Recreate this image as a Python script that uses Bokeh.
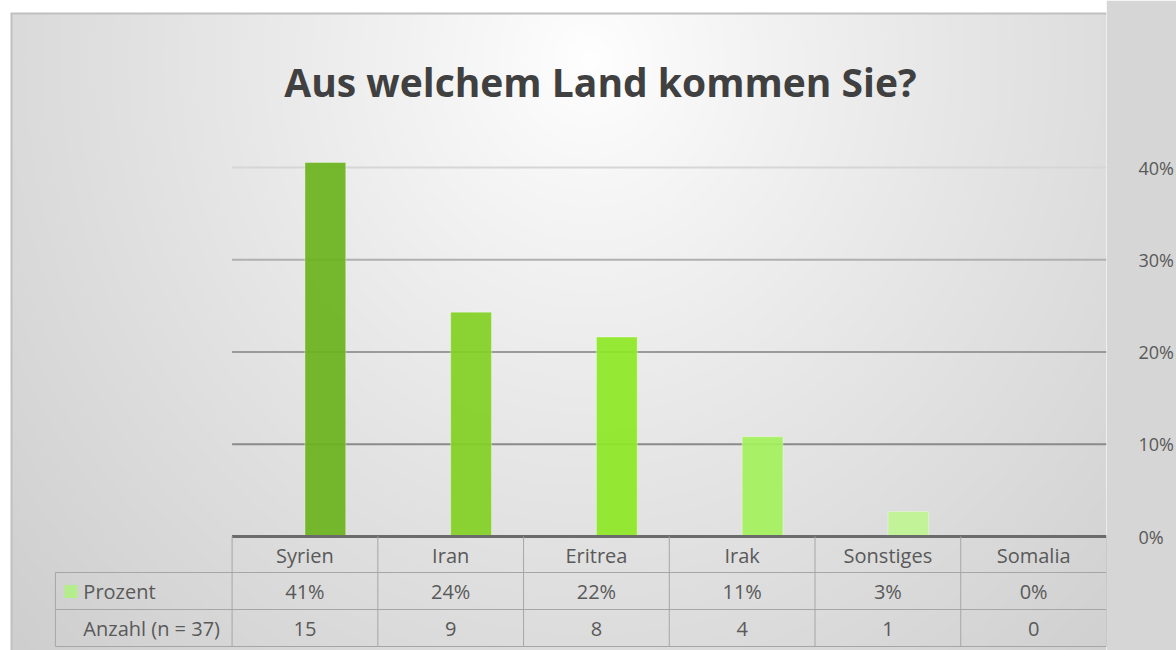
import numpy as np
from bokeh.plotting import figure
from bokeh.models import Range1d, FixedTicker, NumeralTickFormatter, ColumnDataSource
from bokeh.core.properties import value
from bokeh.embed import file_html
from bokeh.resources import INLINE

# ---------------- data ----------------
categories = ["Syrien", "Iran", "Eritrea", "Irak", "Sonstiges", "Somalia"]
prozent = [40.54, 24.32, 21.62, 10.81, 2.70, 0.0]      # percent of respondents
anzahl = [15, 9, 8, 4, 1, 0]                           # counts (n = 37)
bar_colors = ["#6bb31c", "#81d022", "#8de824", "#a3f15b", "#bff492", "#bff492"]
y_ticks = [0.0, 0.1, 0.2, 0.3, 0.4]
title_text = "Aus welchem Land kommen Sie?"
row_labels = ["Prozent", "Anzahl (n = 37)"]

# ---------------- geometry helpers (page pixels -> data) ----------------
W, H = 1176, 650
BORDER_R = 68
frame_left_px, frame_right_px = 0, W - BORDER_R
frame_top_px, frame_bottom_px = 0, H
table_left_cell = 232.0
cell_w = (frame_right_px - table_left_cell) / len(categories)
cell0_center = table_left_cell + cell_w / 2
zero_px = 536.0
px_per_unit = 922.5  # pixels per 1.0 (=100%)

def dx(px):
    return (px - cell0_center) / cell_w

def dy(py):
    return (zero_px - py) / px_per_unit

x0, x1 = dx(frame_left_px), dx(frame_right_px)
y0, y1 = dy(frame_bottom_px), dy(frame_top_px)

p = figure(width=W, height=H, output_backend="svg", toolbar_location=None,
           x_range=Range1d(x0, x1), y_range=Range1d(y0, y1),
           y_axis_location="right", x_axis_location=None,
           min_border_left=0, min_border_top=0, min_border_bottom=0,
           min_border_right=BORDER_R)
p.outline_line_color = None
p.border_fill_color = "#d6d6d6"
p.xgrid.visible = False
p.ygrid.visible = False

# ---------------- background gradient ----------------
IW, IH = 554, 325
jj = np.arange(IW)
ii = np.arange(IH)
pxs = frame_left_px + (jj + 0.5) * (frame_right_px - frame_left_px) / IW
pys = frame_top_px + (ii + 0.5) * (frame_bottom_px - frame_top_px) / IH
PX, PY = np.meshgrid(pxs, pys)
d = np.sqrt(((PX - 590) / 600.0) ** 2 + ((PY - 60) / 650.0) ** 2)
v = np.clip(255 - 38 * d ** 0.9, 198, 255)
v = np.where((PY < 12) | (PX < 10), 255, v)
v = np.where(((PY >= 12) & (PY < 14) & (PX >= 10)) | ((PX >= 10) & (PX < 12) & (PY >= 12)), 192, v)
v = v.astype(np.uint32)
img = (255 << 24) | (v << 16) | (v << 8) | v
img = img[::-1].copy()
p.image_rgba(image=[img.view(np.uint32)], x=x0, y=y0, dw=x1 - x0, dh=y1 - y0)

# ---------------- gridlines ----------------
grid_vals = y_ticks[1:]
grid_cols = ["#8a8a8a", "#9a9a9a", "#b0b0b0", "#d6d6d6"]
p.segment(x0=[-0.5] * len(grid_vals), x1=[len(categories) - 0.5] * len(grid_vals),
          y0=grid_vals, y1=grid_vals, line_color=grid_cols, line_width=2)

# ---------------- bars ----------------
idx = list(range(len(categories)))
src = ColumnDataSource(dict(x=[i + 0.14 for i in idx], top=[v_ / 100.0 for v_ in prozent],
                            color=bar_colors))
p.vbar(x="x", top="top", bottom=0, width=0.28, source=src, fill_color="color",
       fill_alpha=0.92, line_color="#ffffff", line_alpha=0.35, line_width=1)

# ---------------- baseline ----------------
p.segment(x0=[-0.5], x1=[len(categories) - 0.5], y0=[0], y1=[0],
          line_color="#6b6b6b", line_width=3)

# ---------------- data table ----------------
tcol = "#a6a6a6"
left_px = 55
row_lines = [dy(572), dy(609), dy(646)]
p.segment(x0=[dx(left_px)] * 3, x1=[len(categories) - 0.5] * 3,
          y0=row_lines, y1=row_lines, line_color=tcol, line_width=1)
vx = [k - 0.5 for k in range(len(categories) + 1)]
p.segment(x0=vx, x1=vx, y0=[0] * len(vx), y1=[dy(646)] * len(vx),
          line_color=tcol, line_width=1)
p.segment(x0=[dx(left_px)], x1=[dx(left_px)], y0=[dy(572)], y1=[dy(646)],
          line_color=tcol, line_width=1)

font = value("Open Sans")
txt = dict(text_font=font, text_font_size="20px", text_color="#595959",
           text_align="center", text_baseline="middle")
p.text(x=idx, y=[dy(555)] * len(idx), text=categories, **txt)
p.text(x=idx, y=[dy(591)] * len(idx), text=[f"{round(v_)}%" for v_ in prozent], **txt)
p.text(x=idx, y=[dy(628)] * len(idx), text=[str(a) for a in anzahl], **txt)

p.scatter(x=[dx(70.5)], y=[dy(591)], marker="square", size=13,
          fill_color="#b4ee8c", line_color=None)
p.text(x=[dx(83)] * 2, y=[dy(591), dy(628)], text=row_labels, text_font=font,
       text_font_size="20px", text_color="#595959", text_align="left",
       text_baseline="middle")

# ---------------- title ----------------
p.text(x=[dx(601)], y=[dy(81)], text=[title_text], text_font=font,
       text_font_size="39px", text_font_style="bold", text_color="#404040",
       text_align="center", text_baseline="alphabetic")

# ---------------- right axis ----------------
ax = p.yaxis[0]
ax.ticker = FixedTicker(ticks=y_ticks)
ax.formatter = NumeralTickFormatter(format="0%")
ax.axis_line_color = None
ax.major_tick_line_color = None
ax.minor_tick_line_color = None
ax.major_label_standoff = 26
ax.major_label_text_font = "Open Sans"
ax.major_label_text_font_size = "18px"
ax.major_label_text_color = "#595959"

open("out.html", "w").write(file_html(p, INLINE))
